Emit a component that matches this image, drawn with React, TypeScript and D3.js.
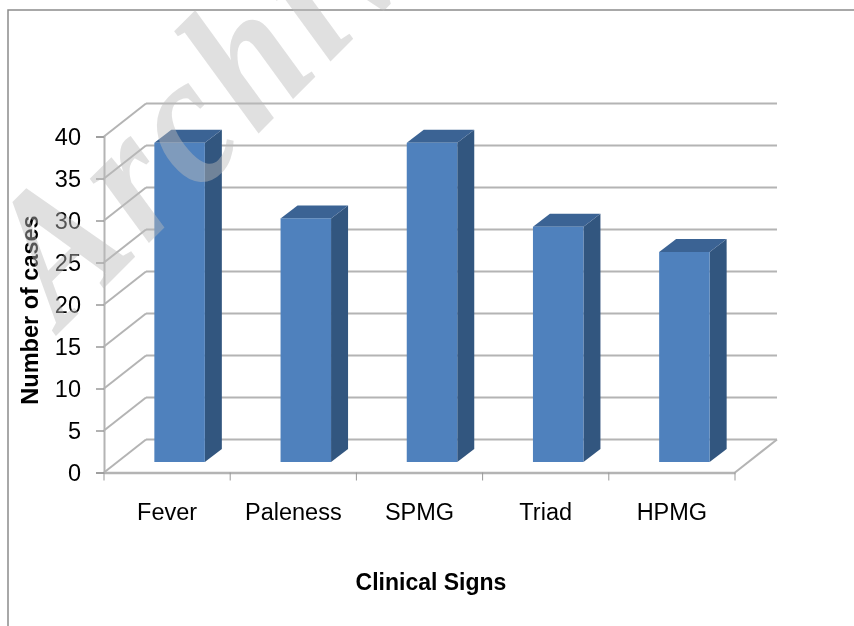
import { useEffect, useRef } from "react";
import * as d3 from "d3";

const categories = ["Fever", "Paleness", "SPMG", "Triad", "HPMG"];
const cases = [38, 29, 38, 28, 25];
const yTicks = [0, 5, 10, 15, 20, 25, 30, 35, 40];

const width = 854;
const height = 626;
const GRID = "#b4b4b4";

export default function App() {
  const ref = useRef<SVGSVGElement>(null);

  useEffect(() => {
    if (!ref.current) return;

    const root = d3.select(ref.current);
    root.selectAll("*").remove();

    // the picture is a slightly soft scan
    root.append("defs").append("filter")
      .attr("id", "soft")
      .append("feGaussianBlur")
      .attr("stdDeviation", 0.45);
    const svg = root.append("g").attr("filter", "url(#soft)");

    const x = d3.scaleBand<string>().domain(categories).range([104, 735]);
    const y = d3.scaleLinear().domain([0, 40]).range([472.5, 136.5]);

    // outer frame, only top and left show
    svg.append("path")
      .attr("d", `M8,${height} V10 H${width}`)
      .attr("fill", "none")
      .attr("stroke", "#8c8c8c")
      .attr("stroke-width", 1.5);

    // walls: depth of the 3d box
    const wallX = 42;
    const wallY = -33;

    const walls = svg.append("g").attr("fill", "none").attr("stroke", GRID).attr("stroke-width", 2);
    walls.selectAll("line.back").data(yTicks).enter().append("line")
      .attr("class", "back")
      .attr("x1", 104 + wallX)
      .attr("x2", 735 + wallX)
      .attr("y1", d => y(d) + wallY)
      .attr("y2", d => y(d) + wallY);
    walls.selectAll("line.side").data(yTicks).enter().append("line")
      .attr("class", "side")
      .attr("x1", 104)
      .attr("x2", 104 + wallX)
      .attr("y1", d => y(d))
      .attr("y2", d => y(d) + wallY);
    walls.append("line")
      .attr("x1", 735)
      .attr("x2", 735 + wallX)
      .attr("y1", y(0))
      .attr("y2", y(0) + wallY);

    const yAxis = d3.axisLeft(y).tickValues(yTicks).tickSize(8).tickPadding(15);
    const yG = svg.append("g").attr("transform", "translate(104,0)").call(yAxis);
    const xAxis = d3.axisBottom(x).tickSize(0).tickPadding(0);
    const xG = svg.append("g").attr("transform", `translate(0,${y(0)})`).call(xAxis);

    // band edges carry the ticks, not the centres
    xG.selectAll(".tick line").remove();
    xG.selectAll("line.edge").data([...categories.map(c => x(c) as number), 735]).enter().append("line")
      .attr("class", "edge")
      .attr("x1", d => d)
      .attr("x2", d => d)
      .attr("y1", 0)
      .attr("y2", 8)
      .attr("stroke", "#999");

    yG.selectAll(".domain, .tick line").attr("stroke", GRID).attr("stroke-width", 2);
    xG.select(".domain").attr("stroke", GRID).attr("stroke-width", 2.5);
    yG.selectAll(".tick line").attr("stroke-width", 1.5).attr("stroke", "#999");

    yG.selectAll("text")
      .attr("font-family", "Liberation Sans")
      .attr("font-size", 23.5)
      .attr("fill", "#000");
    xG.selectAll("text")
      .attr("font-family", "Liberation Sans")
      .attr("font-size", 23.5)
      .attr("fill", "#000")
      .attr("dy", 0)
      .attr("y", 47.5);

    // bars
    const barWidth = 50.5;
    const front = { dx: 12.5, dy: -10.5 };
    const depth = { dx: 17, dy: -13 };
    const bars = svg.append("g").selectAll("g").data(categories).enter().append("g");
    const left = (c: string) => (x(c) as number) + x.bandwidth() / 2 - barWidth / 2 + front.dx;
    const top = (i: number) => y(cases[i]) + front.dy;
    const base = y(0) + front.dy;

    bars.append("path")
      .attr("fill", "#33567f")
      .attr("d", (c, i) => {
        const r = left(c) + barWidth;
        return `M${r},${top(i)} L${r + depth.dx},${top(i) + depth.dy} V${base + depth.dy} L${r},${base} Z`;
      });
    bars.append("path")
      .attr("fill", "#3b6394")
      .attr("d", (c, i) => {
        const l = left(c);
        return `M${l},${top(i)} L${l + depth.dx},${top(i) + depth.dy} H${l + barWidth + depth.dx} L${l + barWidth},${top(i)} Z`;
      });
    bars.append("rect")
      .attr("fill", "#4f81bd")
      .attr("x", c => left(c))
      .attr("y", (c, i) => top(i))
      .attr("width", barWidth)
      .attr("height", (c, i) => base - top(i));

    svg.append("text")
      .attr("transform", "translate(38,310) rotate(-90)")
      .attr("text-anchor", "middle")
      .attr("font-family", "Liberation Sans")
      .attr("font-weight", "bold")
      .attr("font-size", 23.5)
      .text("Number of cases");
    svg.append("text")
      .attr("x", 431)
      .attr("y", 589.5)
      .attr("text-anchor", "middle")
      .attr("font-family", "Liberation Sans")
      .attr("font-weight", "bold")
      .attr("font-size", 23)
      .text("Clinical Signs");

    // watermark sits over everything
    svg.append("text")
      .attr("transform", "translate(62,330) rotate(-45) scale(0.88,1)")
      .attr("font-family", "Liberation Serif")
      .attr("font-style", "italic")
      .attr("font-weight", "bold")
      .attr("font-size", 190)
      .attr("letter-spacing", 9)
      .attr("fill", "#bbb")
      .attr("fill-opacity", 0.45)
      .text("Archives");
  }, []);

  return (
    <svg
      ref={ref}
      width={width}
      height={height}
      style={{ position: "absolute", left: 0, top: 0, background: "#fff" }}
    ></svg>
  );
}
